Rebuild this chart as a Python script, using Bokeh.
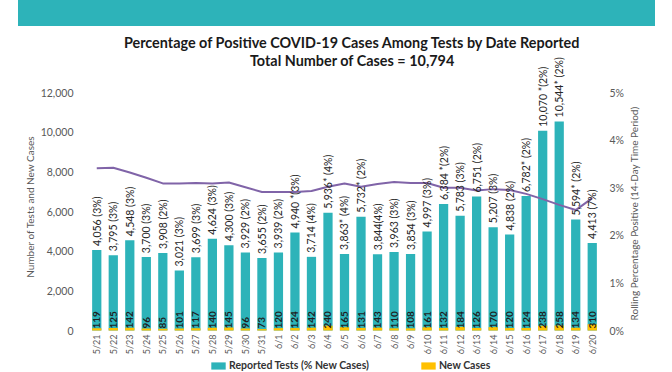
import math
from bokeh.plotting import figure
from bokeh.models import (ColumnDataSource, FactorRange, Range1d, LinearAxis, FixedTicker,
                          CustomJSTickFormatter, NumeralTickFormatter, LabelSet, Label,
                          Legend, LegendItem, Div)
from bokeh.layouts import column, row
from bokeh.core.properties import value
from bokeh.embed import file_html
from bokeh.resources import INLINE

dates = ["5/21", "5/22", "5/23", "5/24", "5/25", "5/26", "5/27", "5/28", "5/29", "5/30", "5/31",
         "6/1", "6/2", "6/3", "6/4", "6/5", "6/6", "6/7", "6/8", "6/9", "6/10", "6/11", "6/12",
         "6/13", "6/14", "6/15", "6/16", "6/17", "6/18", "6/19", "6/20"]
tests = [4056, 3795, 4548, 3700, 3908, 3021, 3699, 4624, 4300, 3929, 3655, 3939, 4940, 3714,
         5936, 3863, 5732, 3844, 3963, 3854, 4997, 6384, 5783, 6751, 5207, 4838, 6782, 10070,
         10544, 5594, 4413]
new_cases = [119, 125, 142, 96, 85, 101, 117, 140, 145, 96, 73, 120, 124, 142, 240, 165, 131,
             143, 110, 108, 161, 132, 184, 126, 170, 120, 124, 238, 258, 134, 310]
test_labels = ["4,056 (3%)", "3,795 (3%)", "4,548 (3%)", "3,700 (3%)", "3,908 (2%)",
               "3,021 (3%)", "3,699 (3%)", "4,624 (3%)", "4,300 (3%)", "3,929 (2%)",
               "3,655 (2%)", "3,939 (2%)", "4,940 *(3%)", "3,714 (4%)", "5,936* (4%)",
               "3,863* (4%)", "5,732* (2%)", "3,844(4%)", "3,963 (3%)", "3,854 (3%)",
               "4,997 (3%)", "6,384 *(2%)", "5,783 (3%)", "6,751 (2%)", "5,207 (3%)",
               "4,838 (2%)", "6,782* (2%)", "10,070 *(2%)", "10,544* (2%)", "5,594* (2%)",
               "4,413 (7%)"]
rolling_pct = [3.41, 3.42, 3.32, 3.21, 3.09, 3.09, 3.10, 3.09, 3.11, 3.01, 2.91, 2.91, 2.91,
               2.93, 3.02, 3.09, 3.02, 3.08, 3.12, 3.10, 3.10, 3.00, 3.00, 2.94, 2.97, 2.95,
               2.87, 2.76, 2.64, 2.53, 2.78]
left_ticks = [0, 2000, 4000, 6000, 8000, 10000, 12000]
right_ticks = [0, 1, 2, 3, 4, 5]
title_lines = ["Percentage of Positive COVID-19 Cases Among Tests by Date Reported",
               "Total Number of Cases = 10,794"]
left_title = "Number of Tests and New Cases"
right_title = "Rolling Percentage Positive (14-Day Time Period)"

TEAL = "#2DB3B9"
ORANGE = "#FFC000"
PURPLE = "#8064A8"
GRAY = "#595959"
FONT = "Lato"

# frame geometry (px): 300 above zero, 42 below zero; 0..12,000 scale spans 238 px
ABOVE, BELOW, SCALE_H = 300, 42, 238
FRAME_H = ABOVE + BELOW
Y0, Y1 = -12000 * BELOW / SCALE_H, 12000 * ABOVE / SCALE_H
P0, P1 = -5 * BELOW / SCALE_H, 5 * ABOVE / SCALE_H
TOP_BORDER = 4


def data_y(px_from_zero):
    return 12000 * px_from_zero / SCALE_H


src = ColumnDataSource(dict(date=dates, tests=tests, new=new_cases, label=test_labels,
                            new_str=[str(v) for v in new_cases], pct=rolling_pct))

p = figure(x_range=FactorRange(*dates), y_range=Range1d(Y0, Y1),
           frame_width=512, frame_height=FRAME_H, x_axis_location=None,
           min_border_left=88, min_border_right=18, min_border_top=TOP_BORDER,
           min_border_bottom=0,
           output_backend="svg", toolbar_location=None, outline_line_color=None,
           background_fill_color="white", border_fill_color="white")
p.extra_y_ranges = {"pct": Range1d(P0, P1)}

r_tests = p.vbar(x="date", top="tests", width=0.56, source=src, fill_color=TEAL, line_color=None)
r_new = p.vbar(x="date", top="new", width=0.56, source=src, fill_color=ORANGE, line_color=None)
p.line(x="date", y="pct", source=src, y_range_name="pct", line_color=PURPLE, line_width=2)

p.xgrid.visible = False
p.ygrid.visible = False

ya = p.yaxis[0]
ya.ticker = FixedTicker(ticks=left_ticks)
ya.formatter = NumeralTickFormatter(format="0,0")
ya.axis_label = left_title + "\u00a0" * 4

ra = LinearAxis(y_range_name="pct", ticker=FixedTicker(ticks=right_ticks),
                formatter=CustomJSTickFormatter(code="return tick.toFixed(0) + '%';"))
p.add_layout(ra, "right")

for ax in [ya, ra]:
    ax.axis_line_color = None
    ax.major_tick_line_color = None
    ax.minor_tick_line_color = None
    ax.major_label_text_font = FONT
    ax.major_label_text_font_size = "10.5px"
    ax.major_label_text_color = GRAY
    ax.axis_label_text_font = FONT
    ax.axis_label_text_font_size = "10px"
    ax.axis_label_text_font_style = "normal"
    ax.axis_label_text_color = GRAY
ya.major_label_standoff = 9
ya.axis_label_standoff = 2
ra.major_label_standoff = 3

# category labels under the bars
p.add_layout(LabelSet(x="date", y=0, text="date", source=src, angle=math.pi / 2,
                      text_align="right", text_baseline="middle", y_offset=-4,
                      text_font=value(FONT), text_font_size=value("9px"),
                      text_color=GRAY))

# bar value labels
p.add_layout(LabelSet(x="date", y="tests", text="label", source=src, angle=math.pi / 2,
                      text_align="left", text_baseline="middle", y_offset=4,
                      text_font=value(FONT), text_font_size=value("10.5px"),
                      text_color="#262626"))
p.add_layout(LabelSet(x="date", y=0, text="new_str", source=src, angle=math.pi / 2,
                      text_align="left", text_baseline="middle", y_offset=2,
                      text_font=value(FONT), text_font_size=value("10px"),
                      text_font_style="bold", text_color="#1F1F1F"))

# titles (inside the upper part of the frame); page y of zero line is 330
TITLE_X = 15.98
for txt, page_y in zip(title_lines, [42, 60]):
    p.add_layout(Label(x=TITLE_X, y=data_y(330 - page_y), text=txt,
                       text_align="center", text_baseline="middle", text_font=FONT,
                       text_font_size="14.4px", text_font_style="bold", text_color="#1A1A1A"))

legend = Legend(items=[LegendItem(label="Reported Tests (% New Cases)", renderers=[r_tests]),
                       LegendItem(label="New Cases", renderers=[r_new])],
                orientation="horizontal", location=(121, 1), glyph_width=18, glyph_height=9,
                label_text_font=FONT, label_text_font_size="10.5px",
                label_text_font_style="bold", label_text_color="#333333",
                spacing=50, padding=0, margin=0, border_line_color=None,
                background_fill_alpha=0, label_height=10, label_standoff=2)
p.add_layout(legend)

# narrow companion figure that carries the right-hand axis title, reading upward
Q_W = 30
Q_H = FRAME_H + TOP_BORDER
q = figure(width=Q_W, height=Q_H, x_range=Range1d(0, Q_W), y_range=Range1d(0, Q_H),
           x_axis_location=None, y_axis_location=None, min_border=0,
           output_backend="svg", toolbar_location=None, outline_line_color=None,
           background_fill_color="white", border_fill_color="white")
q.xgrid.visible = False
q.ygrid.visible = False
q.add_layout(Label(x=6, y=372 - 211, text=right_title, angle=math.pi / 2,
                   text_align="center", text_baseline="middle", text_font=FONT,
                   text_font_size="10px", text_color=GRAY))

header = Div(text="", width=637, height=26, margin=(0, 0, 0, 18),
             styles={"background-color": TEAL})

layout = column(header, row(p, q))
open("out.html", "w").write(file_html(layout, INLINE))
